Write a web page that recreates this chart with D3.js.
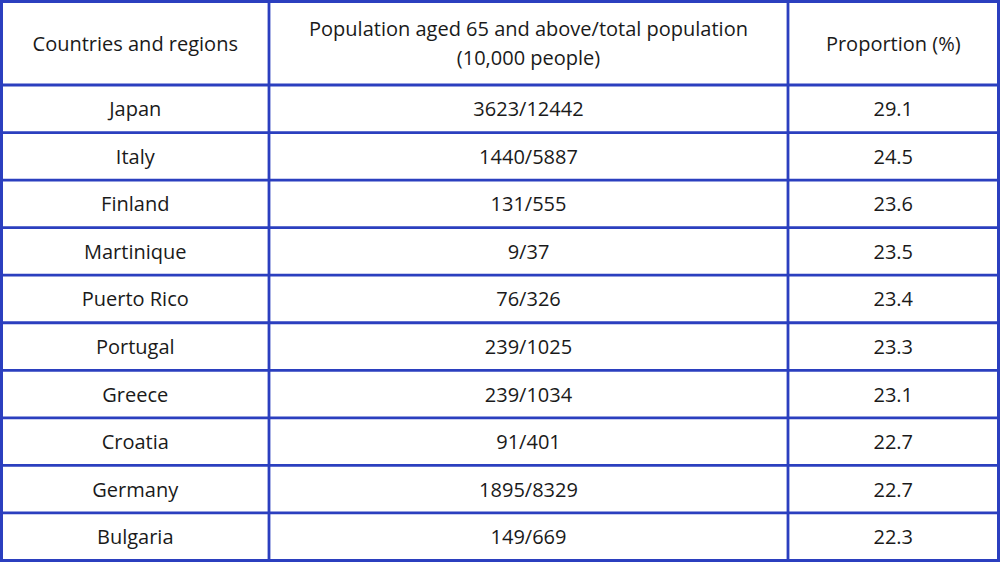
<!DOCTYPE html>
<html>
<head>
<meta charset="utf-8">
<script src="https://cdn.jsdelivr.net/npm/d3@7"></script>
<style>
html,body{margin:0;padding:0;background:#fff;}
svg{display:block;}
</style>
</head>
<body>
<svg id="chart" width="1000" height="563"></svg>
<script>
const headers = ["Countries and regions", "Population aged 65 and above/total population\n(10,000 people)", "Proportion (%)"];
const countries = ["Japan","Italy","Finland","Martinique","Puerto Rico","Portugal","Greece","Croatia","Germany","Bulgaria"];
const aged65 = [3623,1440,131,9,76,239,239,91,1895,149];
const totalPop = [12442,5887,555,37,326,1025,1034,401,8329,669];
const proportion = ["29.1","24.5","23.6","23.5","23.4","23.3","23.1","22.7","22.7","22.3"];

(function(){
const svg = d3.select("#chart");
const L = 1.5, R = 998.5, T = 1.5, B = 560.5;
const colEdges = [L, 269, 788, R];
const headerBottom = 85;
const lineColor = "#2b3fbf";
const fontFam = "'Open Sans', 'Noto Sans', sans-serif";
const fontSize = 20;

const rows = countries.map((c,i)=>[c, aged65[i]+"/"+totalPop[i], proportion[i]]);

const y = d3.scaleBand().domain(d3.range(rows.length)).range([headerBottom, B]);

svg.append("rect").attr("x",0).attr("y",0).attr("width",1000).attr("height",563).attr("fill","#fff");

const colCenters = [0,1,2].map(i => (colEdges[i]+colEdges[i+1])/2);
const headerMid = (T+headerBottom)/2 + 0.5;
headers.forEach((h,i)=>{
  const lines = h.split("\n");
  const lh = 29;
  const t = svg.append("text")
    .attr("x", colCenters[i])
    .attr("text-anchor","middle")
    .attr("font-family", fontFam)
    .attr("font-size", fontSize)
    .attr("fill","#1a1a1a");
  lines.forEach((ln,k)=>{
    t.append("tspan")
      .attr("x", colCenters[i])
      .attr("y", headerMid + (k-(lines.length-1)/2)*lh)
      .attr("dy","0.35em")
      .text(ln);
  });
});

const g = svg.append("g");
rows.forEach((r,ri)=>{
  r.forEach((v,ci)=>{
    g.append("text")
      .attr("x", colCenters[ci])
      .attr("y", y(ri)+y.bandwidth()/2 + 0.5)
      .attr("dy","0.35em")
      .attr("text-anchor","middle")
      .attr("font-family", fontFam)
      .attr("font-size", fontSize)
      .attr("fill","#1a1a1a")
      .text(v);
  });
});

const gl = svg.append("g").attr("stroke", lineColor).attr("fill","none");
const hy = [headerBottom].concat(d3.range(1, rows.length).map(i=>y(i)));
hy.forEach(yy=>{
  gl.append("line").attr("x1",L).attr("x2",R).attr("y1",yy).attr("y2",yy).attr("stroke-width",2.8);
});
[colEdges[1], colEdges[2]].forEach(xx=>{
  gl.append("line").attr("x1",xx).attr("x2",xx).attr("y1",T).attr("y2",B).attr("stroke-width",2.8);
});
gl.append("rect").attr("x",L).attr("y",T).attr("width",R-L).attr("height",B-T).attr("stroke-width",3);
})();
</script>
</body>
</html>
